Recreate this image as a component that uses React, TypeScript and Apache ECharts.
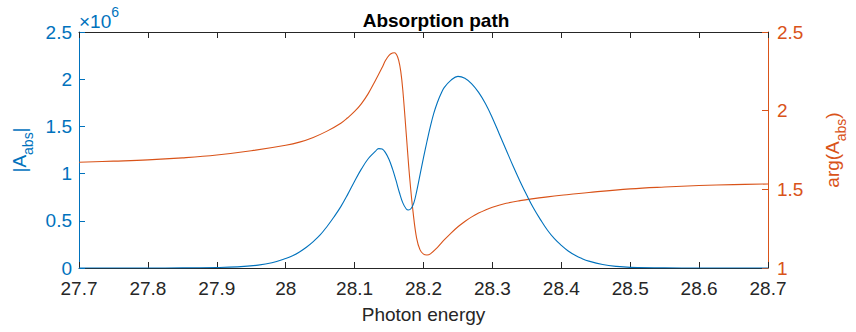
import React, { useEffect, useRef } from "react";
import * as echarts from "echarts";

const SCALE = 1e6;

// |A_abs| (in units of 1e6) vs photon energy
const absX = [
  27.7, 27.8, 27.85, 27.9, 27.93, 27.96, 27.98, 28.0, 28.01, 28.02, 28.03, 28.04,
  28.05, 28.06, 28.07, 28.08, 28.09, 28.1, 28.11, 28.12, 28.13, 28.135, 28.14, 28.145,
  28.15, 28.155, 28.16, 28.165, 28.17, 28.175, 28.178, 28.182, 28.186, 28.19, 28.195, 28.2,
  28.205, 28.21, 28.215, 28.22, 28.225, 28.23, 28.24, 28.25, 28.26, 28.27, 28.28, 28.29,
  28.3, 28.31, 28.32, 28.33, 28.34, 28.35, 28.36, 28.37, 28.38, 28.39, 28.4, 28.41,
  28.42, 28.43, 28.44, 28.46, 28.48, 28.5, 28.55, 28.6, 28.7,
];
const absY = [
  0, 0, 0.001, 0.005, 0.012, 0.03, 0.055, 0.1, 0.13, 0.17, 0.22, 0.28,
  0.35, 0.44, 0.54, 0.65, 0.78, 0.92, 1.05, 1.16, 1.235, 1.265, 1.26, 1.22,
  1.15, 1.05, 0.93, 0.8, 0.69, 0.625, 0.614, 0.63, 0.69, 0.81, 0.99, 1.17,
  1.34, 1.5, 1.64, 1.75, 1.84, 1.91, 1.99, 2.03, 2.01, 1.95, 1.86, 1.74,
  1.59, 1.42, 1.25, 1.08, 0.92, 0.77, 0.63, 0.51, 0.4, 0.31, 0.24, 0.18,
  0.135, 0.1, 0.073, 0.037, 0.017, 0.007, 0.001, 0, 0,
];

// arg(A_abs) vs photon energy
const argX = [
  27.7, 27.75, 27.8, 27.85, 27.9, 27.95, 28.0, 28.02, 28.04, 28.06, 28.08, 28.09,
  28.1, 28.11, 28.12, 28.13, 28.14, 28.145, 28.15, 28.155, 28.158, 28.161, 28.164, 28.167,
  28.17, 28.175, 28.18, 28.185, 28.19, 28.195, 28.2, 28.205, 28.21, 28.22, 28.23, 28.24,
  28.25, 28.26, 28.27, 28.28, 28.29, 28.3, 28.32, 28.34, 28.36, 28.38, 28.4, 28.44,
  28.5, 28.55, 28.6, 28.65, 28.7,
];
const argY = [
  1.672, 1.679, 1.687, 1.7, 1.718, 1.745, 1.78, 1.8, 1.83, 1.87, 1.92, 1.955,
  1.995, 2.045, 2.11, 2.19, 2.275, 2.32, 2.352, 2.366, 2.368, 2.355, 2.32, 2.25,
  2.13, 1.85, 1.57, 1.35, 1.19, 1.115, 1.088, 1.083, 1.09, 1.13, 1.178, 1.222,
  1.262, 1.296, 1.325, 1.349, 1.369, 1.386, 1.411, 1.428, 1.441, 1.452, 1.462, 1.48,
  1.503, 1.515, 1.524, 1.53, 1.534,
];

const xTicks = [27.7, 27.8, 27.9, 28, 28.1, 28.2, 28.3, 28.4, 28.5, 28.6, 28.7];
const leftTicks = [0, 0.5, 1, 1.5, 2, 2.5];
const rightTicks = [1, 1.5, 2, 2.5];

const BLUE = "#0072BD";
const ORANGE = "#D95319";
const DARK = "#262626";
const FONT = "'Liberation Sans', Arial, Helvetica, sans-serif";
const FS = 19;

const fmt = (v: number) => String(Math.round(v * 10) / 10);

export default function App() {
  const ref = useRef<HTMLDivElement>(null);

  useEffect(() => {
    if (!ref.current) return;
    const chart = echarts.init(ref.current, null, { renderer: "svg" });
    const absData = absX.map((x, i) => [x, absY[i] * SCALE]);
    const argData = argX.map((x, i) => [x, argY[i]]);

    const richLabel = (color: string) => ({
      n: { fontSize: FS, fontFamily: FONT, color, lineHeight: 26, verticalAlign: "bottom" as const },
      s: { fontSize: 14, fontFamily: FONT, color, lineHeight: 26, verticalAlign: "bottom" as const, padding: [0, 0, -6, 0] },
    });

    chart.setOption({
      animation: false,
      backgroundColor: "#ffffff",
      title: {
        text: "Absorption path",
        left: 431,
        top: 6,
        textAlign: "center",
        textStyle: { fontFamily: FONT, fontSize: 19, fontWeight: "bold", color: "#000" },
      },
      grid: { left: 79, right: 73, top: 32, bottom: 64, containLabel: false },
      xAxis: [
        {
          type: "value",
          min: xTicks[0],
          max: xTicks[xTicks.length - 1],
          interval: 0.1,
          position: "bottom",
          name: "Photon energy",
          nameLocation: "middle",
          nameGap: 37,
          nameTextStyle: { fontFamily: FONT, fontSize: FS, color: DARK },
          axisLine: { show: true, lineStyle: { color: DARK, width: 1 } },
          axisTick: { show: true, inside: true, length: 6, lineStyle: { color: DARK } },
          axisLabel: { fontFamily: FONT, fontSize: FS, color: DARK, margin: 11, formatter: fmt },
          splitLine: { show: false },
        },
        {
          type: "value",
          min: xTicks[0],
          max: xTicks[xTicks.length - 1],
          interval: 0.1,
          position: "top",
          axisLine: { show: true, lineStyle: { color: DARK, width: 1 } },
          axisTick: { show: true, inside: true, length: 6, lineStyle: { color: DARK } },
          axisLabel: { show: false },
          splitLine: { show: false },
        },
      ],
      yAxis: [
        {
          type: "value",
          min: leftTicks[0] * SCALE,
          max: leftTicks[leftTicks.length - 1] * SCALE,
          interval: 0.5 * SCALE,
          position: "left",
          name: "{n||A}{s|abs}{n||}",
          nameLocation: "middle",
          nameRotate: 90,
          nameGap: 42,
          nameTextStyle: { rich: richLabel(BLUE) },
          axisLine: { show: true, lineStyle: { color: BLUE, width: 1 } },
          axisTick: { show: true, inside: true, length: 6, lineStyle: { color: BLUE } },
          axisLabel: { fontFamily: FONT, fontSize: FS, color: BLUE, margin: 7, formatter: (v: number) => fmt(v / SCALE) },
          splitLine: { show: false },
        },
        {
          type: "value",
          min: rightTicks[0],
          max: rightTicks[rightTicks.length - 1],
          interval: 0.5,
          position: "right",
          name: "{n|arg(A}{s|abs}{n|)}",
          nameLocation: "middle",
          nameRotate: 90,
          nameGap: 48,
          nameTextStyle: { rich: richLabel(ORANGE) },
          axisLine: { show: true, lineStyle: { color: ORANGE, width: 1 } },
          axisTick: { show: true, inside: true, length: 6, lineStyle: { color: ORANGE } },
          axisLabel: { fontFamily: FONT, fontSize: FS, color: ORANGE, margin: 9, formatter: fmt },
          splitLine: { show: false },
        },
      ],
      graphic: [
        {
          type: "text",
          left: 79,
          top: 5,
          style: {
            text: "{n|×10}{s|6}",
            rich: {
              n: { fontSize: 19, fontFamily: FONT, fill: BLUE, lineHeight: 26, verticalAlign: "bottom" },
              s: { fontSize: 14, fontFamily: FONT, fill: BLUE, lineHeight: 26, verticalAlign: "top" },
            },
          },
        },
      ],
      series: [
        {
          type: "line",
          xAxisIndex: 0,
          yAxisIndex: 0,
          data: absData,
          showSymbol: false,
          smooth: 0.4,
          lineStyle: { color: BLUE, width: 1.1 },
          itemStyle: { color: BLUE },
          z: 3,
        },
        {
          type: "line",
          xAxisIndex: 0,
          yAxisIndex: 1,
          data: argData,
          showSymbol: false,
          smooth: 0.4,
          lineStyle: { color: ORANGE, width: 1.1 },
          itemStyle: { color: ORANGE },
          z: 2,
        },
      ],
    });
    return () => chart.dispose();
  }, []);

  return (
    <div
      ref={ref}
      style={{ position: "fixed", left: 0, top: 0, width: 856, height: 332, background: "#fff" }}
    />
  );
}
